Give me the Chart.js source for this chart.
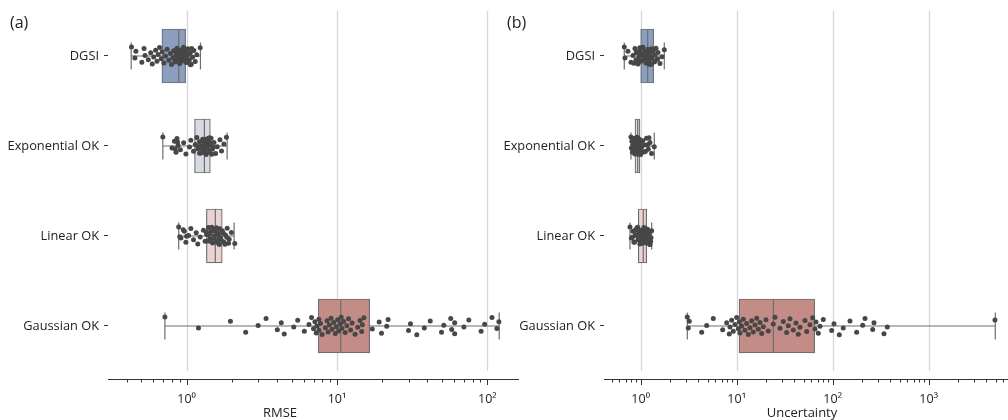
<!DOCTYPE html>
<html><head><meta charset="utf-8">
<script src="https://cdn.jsdelivr.net/npm/chart.js@4.4.1/dist/chart.umd.min.js"></script>
<style>
body{margin:0;background:#fff;width:1008px;height:420px;overflow:hidden;position:relative;font-family:'Open Sans',sans-serif;}
#ca{position:absolute;left:0;top:0;}
#cb{position:absolute;left:504px;top:0;}
.lbl{position:absolute;color:#222;font-size:13px;white-space:nowrap;line-height:1;}
</style></head><body>
<canvas id="ca" width="520" height="420"></canvas>
<canvas id="cb" width="504" height="420"></canvas>
<div class="lbl" style="left:10px;top:14px;font-size:16px">(a)</div>
<div class="lbl" style="left:507px;top:14px;font-size:16px">(b)</div>
<div class="lbl" style="left:280px;top:406px;transform:translateX(-50%)">RMSE</div>
<div class="lbl" style="left:802px;top:406px;transform:translateX(-50%)">Uncertainty</div>
<script>
const categories = ['DGSI', 'Exponential OK', 'Linear OK', 'Gaussian OK'];

// Panel (a): RMSE box statistics
const rmseWhiskerLow  = [0.428, 0.695, 0.886, 0.717];
const rmseQ1          = [0.685, 1.129, 1.354, 7.5];
const rmseMedian      = [0.886, 1.313, 1.552, 10.6];
const rmseQ3          = [0.985, 1.438, 1.725, 16.5];
const rmseWhiskerHigh = [1.236, 1.86, 2.07, 120];

// Panel (b): Uncertainty box statistics
const uncWhiskerLow  = [0.675, 0.792, 0.774, 3.06];
const uncQ1          = [1.0, 0.872, 0.944, 10.6];
const uncMedian      = [1.183, 0.931, 1.064, 24.1];
const uncQ3          = [1.366, 0.983, 1.155, 65];
const uncWhiskerHigh = [1.762, 1.386, 1.302, 4940];

// Panel (a) observations
const rmseDGSI = [0.430,0.453,0.460,0.504,0.529,0.521,0.556,0.577,0.591,0.604,0.622,0.635,0.647,0.661,0.678,0.688,0.706,0.724,0.742,0.761,0.781,0.793,0.809,0.821,0.834,0.850,0.863,0.877,0.886,0.899,0.913,0.923,0.931,0.946,0.956,0.970,0.980,0.995,1.011,1.020,1.042,1.058,1.074,1.095,1.117,1.141,1.169,1.231,0.84,0.87,0.90,0.93,0.96,0.99,1.03,1.06,0.88,0.95,1.00,0.97,1.08];
const rmseExp = [0.695,0.800,0.830,0.850,0.877,0.863,0.909,0.956,0.989,1.046,1.067,1.112,1.141,1.169,1.187,1.218,1.242,1.261,1.280,1.307,1.327,1.348,1.360,1.381,1.410,1.432,1.454,1.483,1.521,1.559,1.599,1.666,1.707,1.770,1.841,1.25,1.29,1.31,1.34,1.37,1.40,1.44,1.47,1.50,1.33,1.30,1.36,1.42,0.84,0.87,1.22,1.19];
const rmseLin = [0.886,0.917,0.966,0.989,1.031,1.067,1.112,1.158,1.187,1.231,1.294,1.327,1.360,1.396,1.432,1.445,1.490,1.521,1.551,1.582,1.624,1.649,1.681,1.725,1.770,1.814,1.861,1.919,1.986,2.091,0.90,0.95,1.38,1.42,1.47,1.52,1.56,1.60,1.63,1.66,1.70,1.75,1.80,1.85,1.50,1.45,1.40,1.58,1.68,1.35,1.90,1.00];
const rmseGau = [0.717,1.199,1.956,2.471,2.990,3.376,4.012,4.263,4.461,5.159,5.482,6.066,6.513,6.775,6.984,7.134,7.277,7.354,7.580,7.58,7.766,7.969,8.375,8.596,8.727,8.901,9.131,9.272,9.513,9.745,9.894,10.11,10.26,10.51,10.67,10.79,11.07,11.34,11.63,11.94,12.31,12.61,13.19,13.75,14.24,14.61,14.76,15.12,17.18,19.09,19.78,21.42,21.88,29.91,30.83,33.96,38.09,41.72,49.60,51.35,57.09,57.96,60.66,60.66,69.86,75.34,90.91,95.99,107.4,115.8,119.4];

// Panel (b) observations
const uncDGSI = [0.675,0.686,0.737,0.792,0.831,0.872,0.893,0.915,0.937,0.960,0.983,1.007,1.032,1.057,1.082,1.109,1.136,1.163,1.191,1.220,1.250,1.280,1.311,1.343,1.376,1.409,1.443,1.478,1.514,1.589,1.667,1.762,0.95,1.00,1.05,1.10,1.15,1.20,1.25,1.30,1.12,1.18,1.22,1.28,1.35,1.40,1.04,0.98,1.50,0.90,0.85];
const uncExp = [0.792,0.80,0.81,0.82,0.83,0.84,0.85,0.86,0.87,0.88,0.89,0.90,0.91,0.92,0.93,0.94,0.95,0.96,0.97,0.98,0.99,1.00,1.02,1.05,1.08,1.10,1.15,1.20,1.25,1.30,1.386,0.85,0.87,0.89,0.91,0.93,0.95,0.97,0.86,0.88,0.90,0.92,0.94,0.96,0.98,1.12,1.18,1.22,0.83,0.84];
const uncLin = [0.774,0.80,0.83,0.86,0.89,0.92,0.94,0.96,0.98,1.00,1.02,1.04,1.06,1.08,1.10,1.12,1.14,1.16,1.18,1.20,1.22,1.25,1.28,1.302,0.85,0.88,0.91,0.95,0.99,1.03,1.07,1.11,1.15,1.19,0.93,0.97,1.01,1.05,1.09,1.13,1.17,1.21,1.24,0.82,0.87,1.27];
const uncGau = [3.058,3.133,3.208,4.320,4.870,5.705,7.148,7.867,8.373,8.515,8.870,9.218,9.601,10.0,10.39,10.65,10.82,11.27,11.72,12.20,12.71,13.21,13.76,14.33,14.89,15.51,16.16,16.79,17.49,18.22,18.93,20.20,21.34,24.06,25.06,28.25,30.58,33.18,34.47,35.91,38.87,41.47,43.83,45.65,51.45,53.61,58.01,61.89,65.40,66.99,70.79,73.74,79.82,97.63,103.2,117.2,128.9,151.4,177.8,205.4,217.0,261.0,269.3,342.2,370.6,4905];

// Axis ticks
const rmseTickValues = [1, 10, 100];
const rmseTickLabels = ['10\u2070', '10\u00B9', '10\u00B2'];
const uncTickValues = [1, 10, 100, 1000];
const uncTickLabels = ['10\u2070', '10\u00B9', '10\u00B2', '10\u00B3'];

const boxColors = ['#8b9ec0', '#d7d9e3', '#ebd3d3', '#c38c87'];
const edgeColor = '#6e6e6e';
const pointColor = '#474747';
const FONT = "'Open Sans', sans-serif";

function jitter(k) { return ((k * 0.6180339887) % 1 - 0.5) * 0.2; }

function buildLogTicks(min, max) {
  const out = [];
  for (let e = Math.floor(Math.log10(min)); e <= Math.ceil(Math.log10(max)); e++) {
    for (let m = 1; m <= 9; m++) {
      const v = m * Math.pow(10, e);
      if (v >= min && v <= max) out.push({ value: v, major: m === 1 });
    }
  }
  return out;
}

const axisPlugin = {
  id: 'axisDecor',
  beforeDatasetsDraw(chart, args, pOpts) {
    const x = chart.scales.x, y = chart.scales.y, ctx = chart.ctx;
    const top = chart.chartArea.top, bot = y.getPixelForValue(3.5);
    ctx.save();
    ctx.strokeStyle = '#d6d6d6'; ctx.lineWidth = 1.3;
    (pOpts.tickValues || []).forEach(v => {
      const px = Math.round(x.getPixelForValue(v)) + 0.5;
      ctx.beginPath(); ctx.moveTo(px, top); ctx.lineTo(px, bot); ctx.stroke();
    });
    ctx.restore();
  },
  afterDraw(chart) {
    const x = chart.scales.x, ctx = chart.ctx, b = chart.chartArea.bottom;
    ctx.save();
    ctx.strokeStyle = '#333'; ctx.lineWidth = 1;
    x.ticks.forEach(t => {
      const px = Math.round(x.getPixelForValue(t.value)) + 0.5;
      const len = t.major ? 6 : 3.5;
      ctx.beginPath(); ctx.moveTo(px, b); ctx.lineTo(px, b + len); ctx.stroke();
    });
    ctx.restore();
  }
};

function makePanel(canvasId, opt) {
  const datasets = [];
  categories.forEach((c, i) => {
    datasets.push({
      type: 'line', order: 4,
      data: [{ x: opt.wlo[i], y: i }, { x: opt.whi[i], y: i }],
      borderColor: edgeColor, borderWidth: 1.2, pointRadius: 0, fill: false
    });
  });
  datasets.push({
    type: 'bar', order: 3, indexAxis: 'y',
    data: categories.map((c, i) => ({ x: [opt.q1[i], opt.q3[i]], y: i })),
    backgroundColor: boxColors, borderColor: edgeColor, borderWidth: 1.2,
    borderSkipped: false, barThickness: 54
  });
  datasets.push({
    type: 'scatter', order: 2,
    data: categories.map((c, i) => ({ x: opt.med[i], y: i })),
    pointStyle: 'line', rotation: 90, pointRadius: 27, borderColor: edgeColor, borderWidth: 1.2
  });
  datasets.push({
    type: 'scatter', order: 1,
    data: categories.flatMap((c, i) => [{ x: opt.wlo[i], y: i }, { x: opt.whi[i], y: i }]),
    pointStyle: 'line', rotation: 90, pointRadius: 13.5, borderColor: edgeColor, borderWidth: 1.2
  });
  opt.points.forEach((arr, i) => {
    datasets.push({
      type: 'scatter', order: 0,
      data: arr.map((v, k) => ({ x: v, y: i + jitter(k) })),
      pointRadius: 2.5, backgroundColor: pointColor, borderWidth: 0
    });
  });

  return new Chart(document.getElementById(canvasId), {
    type: 'scatter',
    data: { datasets },
    plugins: [axisPlugin],
    options: {
      responsive: false, animation: false,
      layout: { autoPadding: false, padding: { top: 11, right: opt.padRight, left: 0, bottom: 0 } },
      plugins: { legend: { display: false }, tooltip: { enabled: false }, axisDecor: { tickValues: opt.tickValues } },
      events: [],
      scales: {
        x: {
          type: 'logarithmic', position: 'bottom', min: opt.min, max: opt.max, offset: false,
          grid: { display: false, offset: false },
          border: { display: true, color: '#333', width: 1 },
          ticks: {
            autoSkip: false, maxRotation: 0, padding: 5, color: '#222',
            font: { family: FONT, size: 12.5 },
            callback: (v) => {
              const k = opt.tickValues.findIndex(t => Math.abs(t - v) / t < 1e-6);
              return k >= 0 ? opt.tickLabels[k] : '';
            }
          },
          afterBuildTicks: (s) => { s.ticks = buildLogTicks(opt.min, opt.max); },
          afterFit: (s) => { s.height = 41; s.paddingLeft = 0; s.paddingRight = 0; }
        },
        y: {
          type: 'linear', position: 'left', min: -0.5, max: 3.589, reverse: true, offset: false,
          grid: { display: true, offset: false, drawOnChartArea: false, drawTicks: true, tickLength: 4, color: '#333' },
          border: { display: false },
          ticks: {
            padding: 5, color: '#222', font: { family: FONT, size: 12.8 },
            callback: (v) => categories[v] !== undefined ? categories[v] : ''
          },
          afterBuildTicks: (s) => { s.ticks = [0, 1, 2, 3].map(v => ({ value: v })); },
          afterFit: (s) => { s.width = opt.yWidth; s.paddingTop = 0; s.paddingBottom = 0; }
        }
      }
    }
  });
}

makePanel('ca', {
  wlo: rmseWhiskerLow, q1: rmseQ1, med: rmseMedian, q3: rmseQ3, whi: rmseWhiskerHigh,
  points: [rmseDGSI, rmseExp, rmseLin, rmseGau],
  min: 0.321, max: 160, tickValues: rmseTickValues, tickLabels: rmseTickLabels,
  yWidth: 108, padRight: 2
});
makePanel('cb', {
  wlo: uncWhiskerLow, q1: uncQ1, med: uncMedian, q3: uncQ3, whi: uncWhiskerHigh,
  points: [uncDGSI, uncExp, uncLin, uncGau],
  min: 0.415, max: 6700, tickValues: uncTickValues, tickLabels: uncTickLabels,
  yWidth: 100, padRight: 0
});
</script>
</body></html>
